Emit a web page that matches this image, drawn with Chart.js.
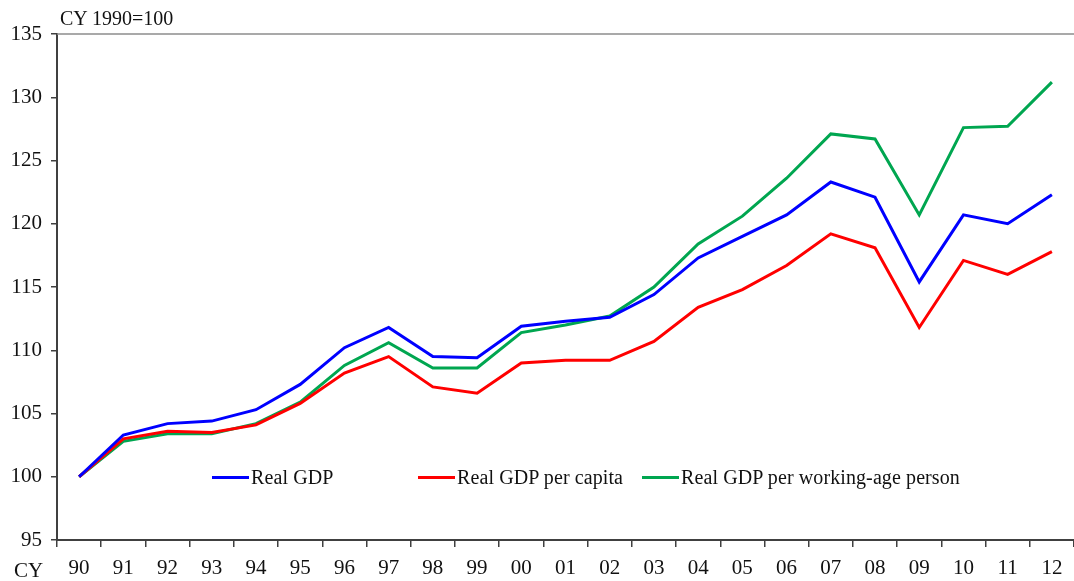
<!DOCTYPE html>
<html>
<head>
<meta charset="utf-8">
<script src="https://cdn.jsdelivr.net/npm/chart.js@4/dist/chart.umd.min.js"></script>
<style>
  html, body { margin: 0; padding: 0; background: #fff; }
  #wrap { position: relative; width: 1074px; height: 581px; font-family: 'Liberation Serif', 'Times New Roman', serif; color: #111; }
  canvas { position: absolute; left: 0; top: 0; }
  .txt { position: absolute; font-size: 20px; line-height: 20px; white-space: nowrap; }
  .leg { position: absolute; top: 467px; height: 20px; display: flex; align-items: center; font-size: 20px; white-space: nowrap; letter-spacing: 0.1px; }
  .leg .sw { display: inline-block; width: 37px; height: 3px; margin-right: 2px; }
</style>
</head>
<body>
<div id="wrap">
  <canvas id="c" width="1074" height="581"></canvas>
  <div class="txt" style="left:60px; top:8px;">CY 1990=100</div>
  <div class="txt" style="left:14px; top:560px; font-size:21px;">CY</div>
  <div class="leg" style="left:212px;"><span class="sw" style="background:#0000ff"></span>Real GDP</div>
  <div class="leg" style="left:418px;"><span class="sw" style="background:#ff0000"></span>Real GDP per capita</div>
  <div class="leg" style="left:642px;"><span class="sw" style="background:#00a650"></span>Real GDP per working-age person</div>
</div>
<script>
const years = ['90','91','92','93','94','95','96','97','98','99','00','01','02','03','04','05','06','07','08','09','10','11','12'];
const realGDP = [100, 103.3, 104.2, 104.4, 105.3, 107.3, 110.2, 111.8, 109.5, 109.4, 111.9, 112.3, 112.6, 114.4, 117.3, 119.0, 120.7, 123.3, 122.1, 115.4, 120.7, 120.0, 122.3];
const realGDPPerCapita = [100, 103.0, 103.6, 103.5, 104.1, 105.8, 108.2, 109.5, 107.1, 106.6, 109.0, 109.2, 109.2, 110.7, 113.4, 114.8, 116.7, 119.2, 118.1, 111.8, 117.1, 116.0, 117.8];
const realGDPPerWorkingAge = [100, 102.8, 103.4, 103.4, 104.2, 105.9, 108.8, 110.6, 108.6, 108.6, 111.4, 112.0, 112.7, 115.0, 118.4, 120.6, 123.6, 127.1, 126.7, 120.7, 127.6, 127.7, 131.2];
const yMin = 95, yMax = 135, yStep = 5;

const axisColor = '#404040';
const fontFamily = "'Liberation Serif', 'Times New Roman', serif";

const topBorder = {
  id: 'topBorder',
  afterDraw(chart) {
    const a = chart.chartArea, ctx = chart.ctx;
    ctx.save();
    ctx.strokeStyle = '#8c8c8c';
    ctx.lineWidth = 1.5;
    ctx.beginPath();
    ctx.moveTo(a.left, a.top);
    ctx.lineTo(a.right, a.top);
    ctx.stroke();
    ctx.restore();
  }
};

new Chart(document.getElementById('c'), {
  type: 'line',
  data: {
    labels: years,
    datasets: [
      { label: 'Real GDP per working-age person', data: realGDPPerWorkingAge, borderColor: '#00a650', borderWidth: 3, pointRadius: 0, tension: 0, order: 3 },
      { label: 'Real GDP per capita', data: realGDPPerCapita, borderColor: '#ff0000', borderWidth: 3, pointRadius: 0, tension: 0, order: 2 },
      { label: 'Real GDP', data: realGDP, borderColor: '#0000ff', borderWidth: 3, pointRadius: 0, tension: 0, order: 1 }
    ]
  },
  options: {
    responsive: false,
    animation: false,
    layout: { padding: { top: 34, left: 0, right: 0, bottom: 0 } },
    plugins: { legend: { display: false }, tooltip: { enabled: false } },
    scales: {
      x: {
        type: 'category',
        offset: true,
        grid: { offset: true, drawOnChartArea: false, drawTicks: true, tickLength: 7, color: axisColor, lineWidth: 1.5 },
        border: { display: true, color: axisColor, width: 2 },
        ticks: { color: '#111', font: { family: fontFamily, size: 21 }, padding: 9, maxRotation: 0, autoSkip: false },
        afterFit(scale) { scale.height = 41; }
      },
      y: {
        min: yMin, max: yMax,
        grid: { drawOnChartArea: false, drawTicks: true, tickLength: 6, color: axisColor, lineWidth: 1.5 },
        border: { display: true, color: axisColor, width: 2 },
        ticks: { stepSize: yStep, color: '#111', font: { family: fontFamily, size: 21 }, padding: 9 },
        afterFit(scale) { scale.width = 57; }
      }
    }
  },
  plugins: [topBorder]
});
</script>
</body>
</html>
